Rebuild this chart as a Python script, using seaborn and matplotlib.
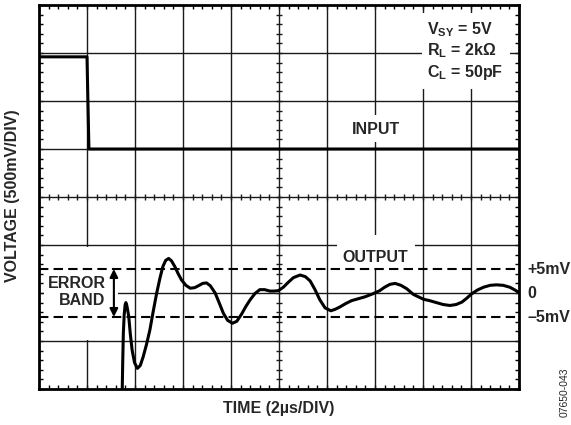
import numpy as np
import matplotlib
matplotlib.use('Agg')
import matplotlib.pyplot as plt
from matplotlib.patches import Rectangle
import seaborn as sns

# Scope trace, all values in screen divisions (10 x 8 grid)
input_t = [0.0, 1.0, 1.04, 10.0]
input_v = [6.92, 6.92, 5.0, 5.0]

output_t = [1.73, 1.735, 1.745, 1.757, 1.775, 1.795, 1.81, 1.83, 1.87, 1.90,
            1.94, 1.99, 2.05, 2.11, 2.17, 2.24, 2.31, 2.38, 2.45, 2.52,
            2.58, 2.64, 2.70, 2.76, 2.83, 2.90, 2.97, 3.06, 3.15, 3.24,
            3.32, 3.41, 3.49, 3.57, 3.67, 3.76, 3.84, 3.93, 4.03, 4.12,
            4.22, 4.31, 4.40, 4.50, 4.60, 4.70, 4.81, 4.90, 4.99, 5.09,
            5.19, 5.30, 5.44, 5.55, 5.65, 5.75, 5.85, 5.96, 6.08, 6.17,
            6.27, 6.39, 6.51, 6.65, 6.79, 6.97, 7.10, 7.20, 7.31, 7.42,
            7.54, 7.66, 7.80, 8.01, 8.14, 8.28, 8.42, 8.56, 8.69, 8.81,
            8.91, 9.01, 9.13, 9.26, 9.40, 9.53, 9.67, 9.81, 9.92, 10.0]
output_v = [-0.5, 0.05, 0.6, 1.16, 1.55, 1.76, 1.80, 1.74, 1.51, 1.17,
            0.81, 0.55, 0.43, 0.49, 0.67, 0.93, 1.23, 1.62, 1.99, 2.31,
            2.55, 2.68, 2.72, 2.67, 2.55, 2.40, 2.27, 2.16, 2.10, 2.11,
            2.15, 2.20, 2.21, 2.15, 2.00, 1.78, 1.58, 1.43, 1.37, 1.41,
            1.56, 1.72, 1.86, 1.99, 2.07, 2.07, 2.04, 2.04, 2.05, 2.12,
            2.22, 2.32, 2.375, 2.34, 2.25, 2.07, 1.86, 1.69, 1.63, 1.66,
            1.71, 1.78, 1.84, 1.88, 1.92, 1.99, 2.05, 2.12, 2.18, 2.20,
            2.16, 2.09, 1.97, 1.87, 1.84, 1.80, 1.76, 1.74, 1.76, 1.81,
            1.89, 1.98, 2.06, 2.12, 2.16, 2.17, 2.16, 2.12, 2.06, 2.01]

# error band levels (output zero at 2 div, 10mV/div)
band_levels = [2.5, 2.0, 1.5]
band_labels = ['+5mV', '0', '\u20135mV']

sns.set_style('white')
plt.rcParams['font.family'] = ['Liberation Sans', 'DejaVu Sans']
plt.rcParams['font.weight'] = 'bold'
plt.rcParams['mathtext.fontset'] = 'custom'
plt.rcParams['mathtext.rm'] = 'Liberation Sans:bold'
plt.rcParams['mathtext.it'] = 'Liberation Sans:bold'
plt.rcParams['mathtext.bf'] = 'Liberation Sans:bold'

fig = plt.figure(figsize=(5.71, 4.25), dpi=100)
ax = fig.add_axes([39/571, 36/425, 480/571, 384/425])

# graticule
gc = '#1a1a1a'
for i in range(1, 10):
    ax.axvline(i, color=gc, lw=1.0, zorder=1)
for j in range(1, 8):
    ax.axhline(j, color=gc, lw=1.0, zorder=1)
minor = np.arange(0.2, 10, 0.2)
ax.plot(minor, np.full_like(minor, 4.0), ls='none', marker='|', ms=4,
        mew=1.0, color=gc, zorder=1)
minor_y = np.arange(0.2, 8, 0.2)
ax.plot(np.full_like(minor_y, 5.0), minor_y, ls='none', marker='_', ms=4,
        mew=1.0, color=gc, zorder=1)

# white label backgrounds
for (x0, y0, w, h) in [(7.97, 6.25, 1.84, 1.58), (6.48, 5.15, 1.06, 0.56),
                       (6.21, 2.52, 1.62, 0.69), (0.1, 1.02, 1.55, 1.93)]:
    ax.add_patch(Rectangle((x0, y0), w, h, facecolor='white',
                           edgecolor='none', zorder=2))

# error band
for lv in [band_levels[0], band_levels[2]]:
    ax.axhline(lv, color='black', lw=1.5, ls=(0, (4.5, 2.5)), zorder=3)

sns.lineplot(x=input_t, y=input_v, ax=ax, color='black', lw=2.2,
             sort=False, estimator=None, zorder=4)
sns.lineplot(x=output_t, y=output_v, ax=ax, color='black', lw=2.2,
             sort=False, estimator=None, zorder=4)
for ln in ax.get_lines()[-2:]:
    ln.set_solid_joinstyle('round')
    ln.set_solid_capstyle('butt')

ax.set_xlim(0, 10)
ax.set_ylim(0, 8)
ax.set_xticks(np.arange(0, 10.01, 0.2))
ax.set_yticks(np.arange(0, 8.01, 0.2))
ax.tick_params(direction='in', length=3, width=1.0, color='black',
               top=True, right=True, bottom=True, left=True,
               labelbottom=False, labelleft=False)
ax.set_xlabel('')
ax.set_ylabel('')
for sp in ax.spines.values():
    sp.set_linewidth(2.0)
    sp.set_color('black')
    sp.set_visible(True)

fs = 11.5
ax.text(8.08, 7.48, 'V$_{\\rm SY}$ = 5V', fontsize=fs, va='center', ha='left', zorder=5)
ax.text(8.08, 7.05, 'R$_{\\rm L}$ = 2k\u03a9', fontsize=fs, va='center', ha='left', zorder=5)
ax.text(8.08, 6.60, 'C$_{\\rm L}$ = 50pF', fontsize=fs, va='center', ha='left', zorder=5)
ax.text(7.01, 5.40, 'INPUT', fontsize=fs, va='center', ha='center', zorder=5)
ax.text(7.01, 2.75, 'OUTPUT', fontsize=fs, va='center', ha='center', zorder=5)
ax.text(1.39, 2.02, 'ERROR\nBAND', fontsize=fs, va='center', ha='right',
        multialignment='right', linespacing=1.2, zorder=5)
ax.annotate('', xy=(1.56, 2.5), xytext=(1.56, 1.5),
            arrowprops=dict(arrowstyle='<|-|>', color='black', lw=1.5,
                            mutation_scale=12, shrinkA=0, shrinkB=0),
            zorder=5)
for lv, lb in zip(band_levels, band_labels):
    ax.text(10.17, lv, lb, fontsize=fs, va='center', ha='left', clip_on=False)

fig.text(279/571, 1 - 409/425, 'TIME (2\u00b5s/DIV)', fontsize=fs,
         ha='center', va='center')
fig.text(13/571, 1 - 196/425, 'VOLTAGE (500mV/DIV)', fontsize=fs,
         ha='center', va='center', rotation=90)
fig.text(565/571, 1 - 392/425, '07650-043', fontsize=7.5, fontweight='normal',
         ha='center', va='center', rotation=90)

plt.savefig('out.png', dpi=100)
